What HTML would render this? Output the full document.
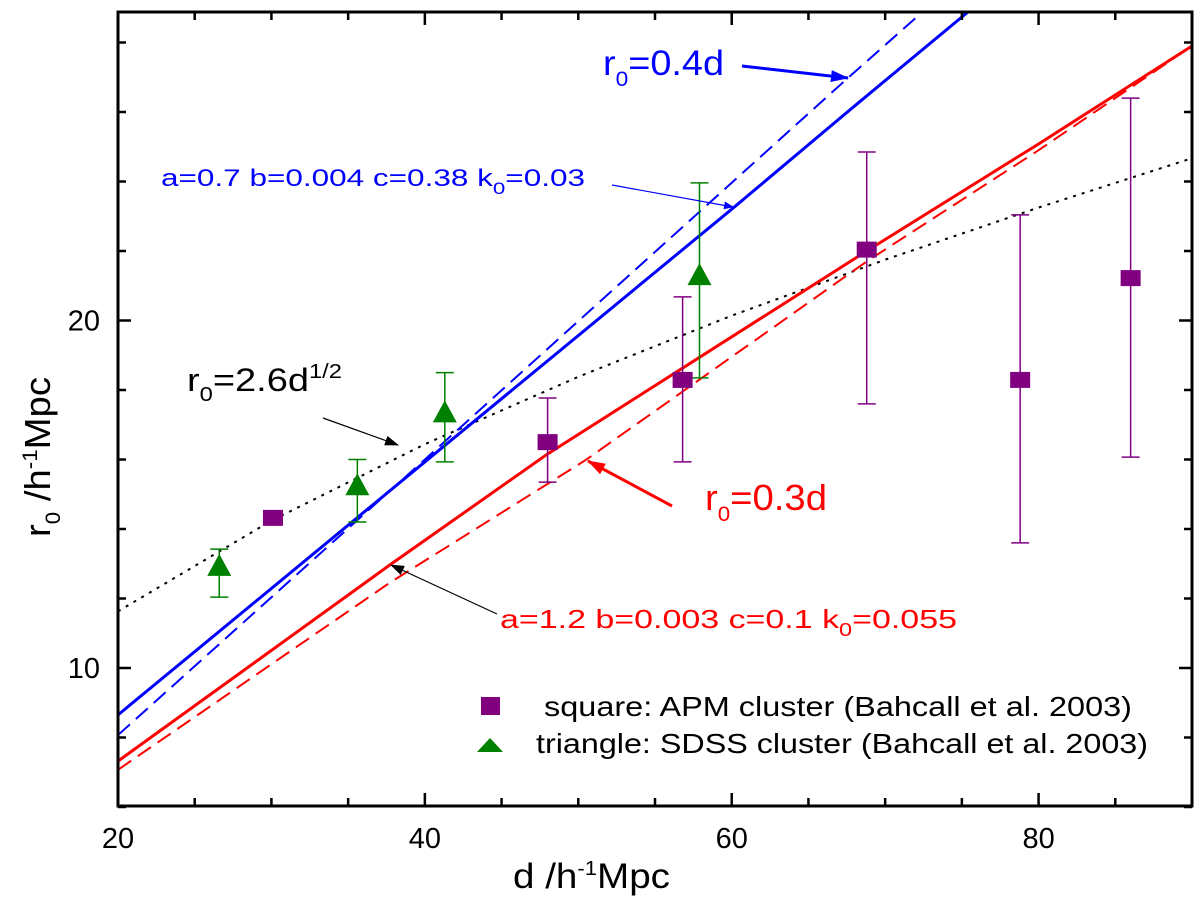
<!DOCTYPE html>
<html><head><meta charset="utf-8"><style>
body{margin:0;background:#fff}
svg{display:block;font-family:"Liberation Sans",Arial,sans-serif}
</style></head><body>
<svg id="chart" width="1200" height="900" viewBox="0 0 1200 900">
<defs>
<marker id="ab" markerWidth="10" markerHeight="8" refX="9" refY="4" orient="auto" markerUnits="userSpaceOnUse"><path d="M0,0 L10,4 L0,8 Z" fill="#0000ff"/></marker>
<marker id="abk" markerWidth="14" markerHeight="10" refX="13" refY="5" orient="auto" markerUnits="userSpaceOnUse"><path d="M0,0 L14,5 L0,10 Z" fill="#000"/></marker>
<marker id="abl" markerWidth="18" markerHeight="12" refX="17" refY="6" orient="auto" markerUnits="userSpaceOnUse"><path d="M0,0 L18,6 L0,12 Z" fill="#0000ff"/></marker>
<marker id="ar" markerWidth="18" markerHeight="12" refX="17" refY="6" orient="auto" markerUnits="userSpaceOnUse"><path d="M0,0 L18,6 L0,12 Z" fill="#ff0000"/></marker>
</defs>
</svg>
<script>
const xTicks=[20,40,60,80];
const yTicks=[10,20];
const apmD=[30.1,48,56.8,68.8,78.8,86];
const apmR=[14.32,16.5,18.29,22.04,18.29,21.22];
const apmLo=[14.32,15.35,15.93,17.6,13.6,16.07];
const apmHi=[14.32,17.77,20.68,24.85,23.04,26.4];
const sdssD=[26.6,35.6,41.3,57.9];
const sdssR=[12.88,15.2,17.3,21.25];
const sdssLo=[12.04,14.2,15.93,18.35];
const sdssHi=[13.42,16.0,18.5,23.96];
const blueSolidD=[20,40,60.1,67.7,76];
const blueSolidR=[8.65,15.93,23.24,26.06,29.1];
const blueDashD=[20,40,67.5,73];
const blueDashR=[8.07,16.0,26.95,29.1];
const redSolidD=[20,37.7,48,68.8,80,90];
const redSolidR=[7.32,12.96,16.16,22.0,25.08,27.9];
const redDashD=[20,37.7,50.5,68.8,80,90];
const redDashR=[7.07,12.45,15.99,21.7,24.9,27.9];
const dotD=[20,30,40,50,60,70,80,90];
const dotR=[11.63,14.24,16.44,18.38,20.14,21.75,23.25,24.67];

const L=118,R=1192,T=12,B=806;
const X=d=>L+(d-20)*(R-L)/70;
const Y=r=>668-(r-10)*34.75;
const NS="http://www.w3.org/2000/svg";
const svg=document.getElementById('chart');
function mk(tag,attrs,parent){const e=document.createElementNS(NS,tag);for(const k in attrs)e.setAttribute(k,attrs[k]);(parent||svg).appendChild(e);return e;}

const clip=mk('clipPath',{id:'pc'});mk('rect',{x:L,y:T,width:R-L,height:B-T},clip);
const g=mk('g',{'clip-path':'url(#pc)'});



function line(ds,rs,color,w,dash,name){
  const p=mk('polyline',{points:ds.map((d,i)=>X(d)+','+Y(rs[i])).join(' '),fill:'none',stroke:color,'stroke-width':w,'stroke-dasharray':dash||'none'},g);
  
  
}
line(dotD,dotR,'#000',2,'3,6','dotted-sqrt-curve');
line(blueDashD,blueDashR,'#0000ff',2,'16,8','blue-dashed-line');
line(blueSolidD,blueSolidR,'#0000ff',3,'','blue-solid-curve');
line(redDashD,redDashR,'#ff0000',2,'16,8','red-dashed-line');
line(redSolidD,redSolidR,'#ff0000',3,'','red-solid-curve');

function ebar(d,lo,hi,color,name){
  if(hi-lo<0.01)return;
  const e=mk('path',{d:`M${X(d)},${Y(hi)}V${Y(lo)}M${X(d)-9},${Y(hi)}h18M${X(d)-9},${Y(lo)}h18`,stroke:color,'stroke-width':1.5,fill:'none'},g);
  
  
}
sdssD.forEach((d,i)=>{
  ebar(d,sdssLo[i],sdssHi[i],'#008000','sdss-error-bar');
  const x=X(d),y=Y(sdssR[i]);
  const t=mk('polygon',{points:`${x},${y-14} ${x-12},${y+8} ${x+12},${y+8}`,fill:'#008000'},g);
  
  
});
apmD.forEach((d,i)=>{
  ebar(d,apmLo[i],apmHi[i],'#800080','apm-error-bar');
  const s=mk('rect',{x:X(d)-10,y:Y(apmR[i])-8,width:20,height:16,fill:'#800080'},g);
  
  
});

const fr=mk('rect',{x:L,y:T,width:R-L,height:B-T,fill:'none',stroke:'#000','stroke-width':3});



for(let d=20;d<=90;d+=5){
  const len=(d%20===0)?13:8;
  const x=X(d);
  const t=mk('path',{d:`M${x},${B}v${-len}M${x},${T}v${len}`,stroke:'#000','stroke-width':2.5});
  
  
}
xTicks.forEach(d=>{
  const t=mk('text',{x:X(d),y:848,'font-size':29,'text-anchor':'middle',fill:'#000'});
  t.textContent=d;
  
  
});
for(let r=6;r<=28;r+=2){
  const len=(r%10===0)?13:8;
  const y=Y(r);
  const t=mk('path',{d:`M${L},${y}h${len}M${R},${y}h${-len}`,stroke:'#000','stroke-width':2.5});
  
  
}
yTicks.forEach(r=>{
  const t=mk('text',{x:100,y:Y(r)+10,'font-size':29,'text-anchor':'end',fill:'#000'});
  t.textContent=r;
  
  
});

svg.insertAdjacentHTML('beforeend',`
<text x="513" y="888" font-size="35" textLength="157" lengthAdjust="spacingAndGlyphs">d /h<tspan dy="-13" font-size="20">-1</tspan><tspan dy="13">Mpc</tspan></text>
<text transform="translate(50,537) rotate(-90)" font-size="36" textLength="160" lengthAdjust="spacingAndGlyphs">r<tspan dy="10" font-size="21">0</tspan><tspan dy="-10"> /h</tspan><tspan dy="-13" font-size="21">-1</tspan><tspan dy="13">Mpc</tspan></text>
<text x="603" y="75" font-size="35" textLength="121" lengthAdjust="spacingAndGlyphs" fill="#0000ff">r<tspan dy="11" font-size="21">0</tspan><tspan dy="-11">=0.4d</tspan></text>
<line x1="742" y1="66" x2="848" y2="78" stroke="#0000ff" stroke-width="3" marker-end="url(#abl)"/>
<text x="161" y="186" font-size="24" textLength="424" lengthAdjust="spacingAndGlyphs" fill="#0000ff">a=0.7 b=0.004 c=0.38 k<tspan dy="8" font-size="17">0</tspan><tspan dy="-8">=0.03</tspan></text>
<line x1="612" y1="185" x2="733" y2="207" stroke="#0000ff" stroke-width="1.2" marker-end="url(#ab)"/>
<text x="187" y="391" font-size="32" textLength="155" lengthAdjust="spacingAndGlyphs" fill="#000">r<tspan dy="10" font-size="20">0</tspan><tspan dy="-10">=2.6d</tspan><tspan dy="-13" font-size="20">1/2</tspan></text>
<line x1="323" y1="418" x2="398" y2="445" stroke="#000" stroke-width="1.2" marker-end="url(#abk)"/>
<text x="705" y="510" font-size="36" textLength="122" lengthAdjust="spacingAndGlyphs" fill="#ff0000">r<tspan dy="11" font-size="21">0</tspan><tspan dy="-11">=0.3d</tspan></text>
<line x1="672" y1="506" x2="588" y2="461" stroke="#ff0000" stroke-width="3" marker-end="url(#ar)"/>
<text x="500" y="628" font-size="26" textLength="457" lengthAdjust="spacingAndGlyphs" fill="#ff0000">a=1.2  b=0.003  c=0.1  k<tspan dy="8" font-size="18">0</tspan><tspan dy="-8">=0.055</tspan></text>
<line x1="497" y1="614" x2="391" y2="565" stroke="#000" stroke-width="1.2" marker-end="url(#abk)"/>
<g>
<rect x="481" y="697" width="19" height="18" fill="#800080"/>
<text x="544" y="716" font-size="28" textLength="588" lengthAdjust="spacingAndGlyphs">square:  APM cluster (Bahcall et al. 2003)</text>
<polygon points="490,738 477,752 503,752" fill="#008000"/>
<text x="536" y="753" font-size="28" textLength="612" lengthAdjust="spacingAndGlyphs">triangle:  SDSS cluster (Bahcall et al. 2003)</text>
</g>`);
</script>
</body></html>
